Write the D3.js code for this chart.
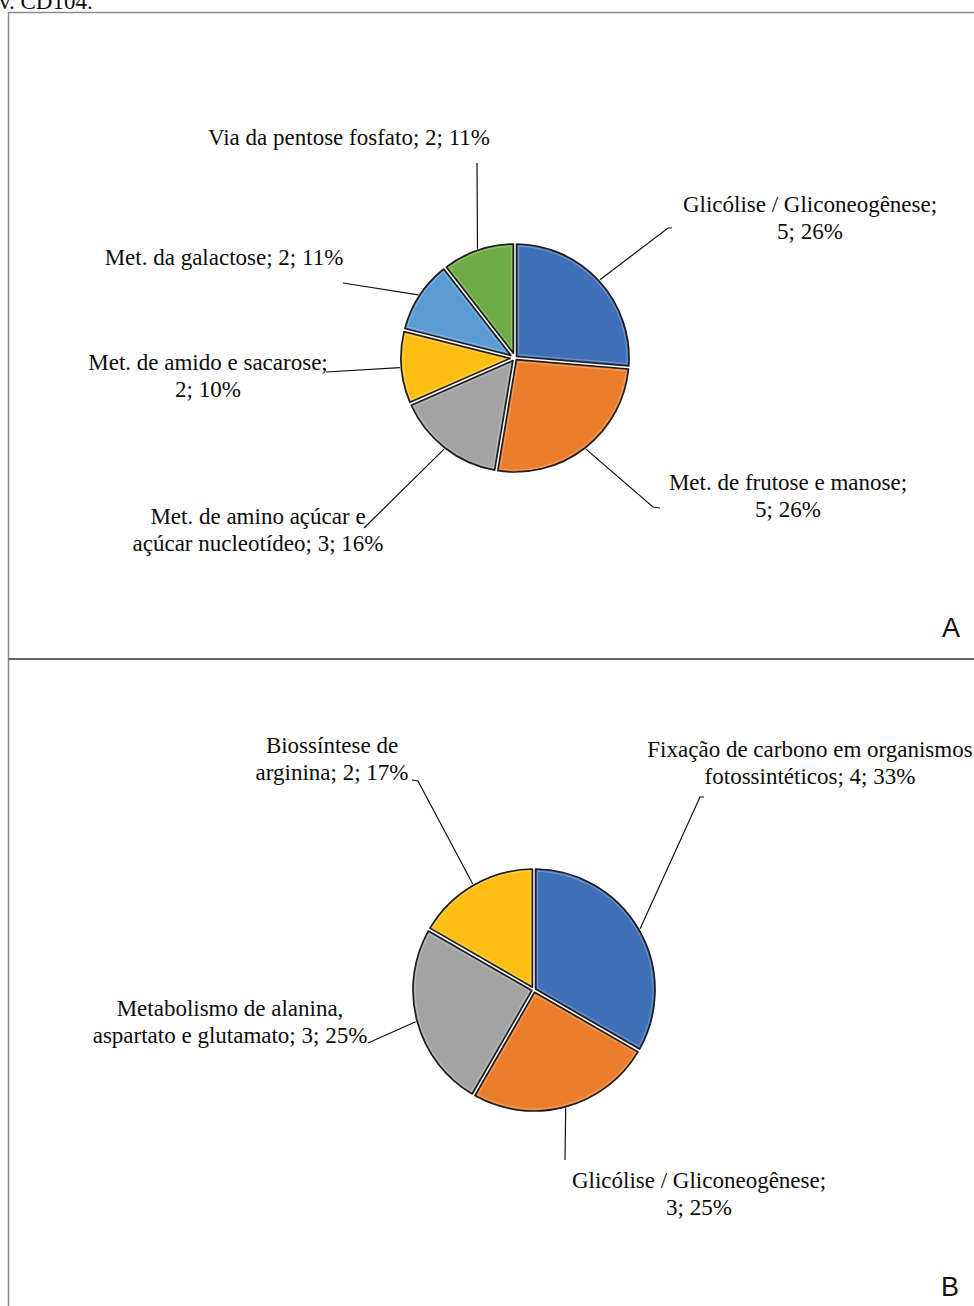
<!DOCTYPE html>
<html>
<head>
<meta charset="utf-8">
<script src="https://cdn.jsdelivr.net/npm/d3@7"></script>
<style>
  html, body { margin: 0; padding: 0; background: #fff; }
  svg { display: block; }
  .lbl { font-family: "Liberation Serif", "Times New Roman", serif; font-size: 23px; fill: #0d0d0d; }
  .panel { font-family: "Liberation Sans", Arial, sans-serif; font-size: 27px; fill: #111; }
</style>
</head>
<body>
<svg id="fig" width="974" height="1306"></svg>
<script>
// Panel A: pathways (counts and printed percentages)
const catsA = [
  ["Glicólise / Gliconeogênese;", "5; 26%"],
  ["Met. de frutose e manose;", "5; 26%"],
  ["Met. de amino açúcar e", "açúcar nucleotídeo; 3; 16%"],
  ["Met. de amido e sacarose;", "2; 10%"],
  ["Met. da galactose; 2; 11%"],
  ["Via da pentose fosfato; 2; 11%"]
];
const valuesA = [5, 5, 3, 2, 2, 2];
const colorsA = ["#3f6fb6", "#ec7d2c", "#a3a3a3", "#fdbe14", "#5a9bd4", "#6eab44"];

// Panel B
const catsB = [
  ["Fixação de carbono em organismos", "fotossintéticos; 4; 33%"],
  ["Glicólise / Gliconeogênese;", "3; 25%"],
  ["Metabolismo de alanina,", "aspartato e glutamato; 3; 25%"],
  ["Biossíntese de", "arginina; 2; 17%"]
];
const valuesB = [4, 3, 3, 2];
const colorsB = ["#3f6fb6", "#ec7d2c", "#a3a3a3", "#fdbe14"];

// Layout: label anchor (centre x, first baseline) and leader-line path on the label side
const layoutA = {
  cx: 515, cy: 358, r: 114,
  labels: [
    { x: 810, y: 212, lead: [[668, 228], [672, 228]] },
    { x: 788, y: 490, lead: [[653, 507], [660, 508]] },
    { x: 258, y: 524, lead: [[364, 528]] },
    { x: 208, y: 370, lead: [[326, 372]] },
    { x: 224, y: 265, lead: [[343, 283]] },
    { x: 349, y: 145, lead: [[477, 163]] }
  ]
};
const layoutB = {
  cx: 534, cy: 990, r: 121,
  labels: [
    { x: 810, y: 757, lead: [[700, 797], [704, 797]] },
    { x: 699, y: 1188, lead: [[565, 1160]] },
    { x: 230, y: 1016, lead: [[368, 1043]] },
    { x: 332, y: 753, lead: [[418, 781], [412, 780]] }
  ]
};

const svg = d3.select("#fig");
const lineH = 27;
const gap = 3.2;   // white gap between neighbouring slices

// frame lines
const frame = svg.append("g").attr("fill", "none");
frame.append("path").attr("d", "M8.5,1306 V12.5 H974").attr("stroke", "#8a8a8a").attr("stroke-width", 1.5);
frame.append("path").attr("d", "M8,659 H974").attr("stroke", "#666").attr("stroke-width", 2);

// caption fragment at the top edge
svg.append("text").attr("class", "lbl").attr("x", -1).attr("y", 9).text("v. CD104.");

// sector whose straight sides are pulled in by half the gap, outer arc kept on radius r
function slicePath(a, r, inset) {
  const half = (a.endAngle - a.startAngle) / 2;
  const mid = a.startAngle + half;
  const d = inset / Math.sin(half);
  const P = [d * Math.sin(mid), -d * Math.cos(mid)];
  const hit = ang => {
    const u = [Math.sin(ang), -Math.cos(ang)];
    const pu = P[0] * u[0] + P[1] * u[1];
    const pp = P[0] * P[0] + P[1] * P[1];
    const t = -pu + Math.sqrt(pu * pu - pp + r * r);
    return [P[0] + t * u[0], P[1] + t * u[1]];
  };
  const E1 = hit(a.startAngle), E2 = hit(a.endAngle);
  const large = (a.endAngle - a.startAngle) > Math.PI ? 1 : 0;
  return `M${P[0]},${P[1]}L${E1[0]},${E1[1]}A${r},${r} 0 ${large} 1 ${E2[0]},${E2[1]}Z`;
}

function drawPie(values, cats, colors, layout) {
  const pie = d3.pie().sort(null).value(d => d);
  const arcs = pie(values);
  const g = svg.append("g").attr("transform", `translate(${layout.cx},${layout.cy})`);

  arcs.forEach((a, i) => {
    const mid = (a.startAngle + a.endAngle) / 2;
    g.append("path").attr("d", slicePath(a, layout.r, gap / 2)).attr("fill", colors[i])
      .attr("stroke", "#1e1e1e").attr("stroke-width", 1.7).attr("stroke-linejoin", "round");
    g.append("path").attr("d", slicePath(a, layout.r - 2, gap / 2 + 2)).attr("fill", "none")
      .attr("stroke", "#ffffff").attr("stroke-opacity", 0.25).attr("stroke-width", 1.2);

    // leader line from slice edge to the label
    const rr = layout.r + 1.5;
    const p0 = [layout.cx + rr * Math.sin(mid), layout.cy - rr * Math.cos(mid)];
    const pts = [p0].concat(layout.labels[i].lead);
    svg.append("path").attr("d", d3.line()(pts)).attr("fill", "none")
      .attr("stroke", "#111").attr("stroke-width", 1.2);

    // label text
    const t = svg.append("text").attr("class", "lbl").attr("text-anchor", "middle");
    cats[i].forEach((ln, k) => {
      t.append("tspan").attr("x", layout.labels[i].x).attr("y", layout.labels[i].y + k * lineH).text(ln);
    });
  });
}

drawPie(valuesA, catsA, colorsA, layoutA);
drawPie(valuesB, catsB, colorsB, layoutB);

svg.append("text").attr("class", "panel").attr("x", 951).attr("y", 637).attr("text-anchor", "middle").text("A");
svg.append("text").attr("class", "panel").attr("x", 950).attr("y", 1296).attr("text-anchor", "middle").text("B");
</script>
</body>
</html>
